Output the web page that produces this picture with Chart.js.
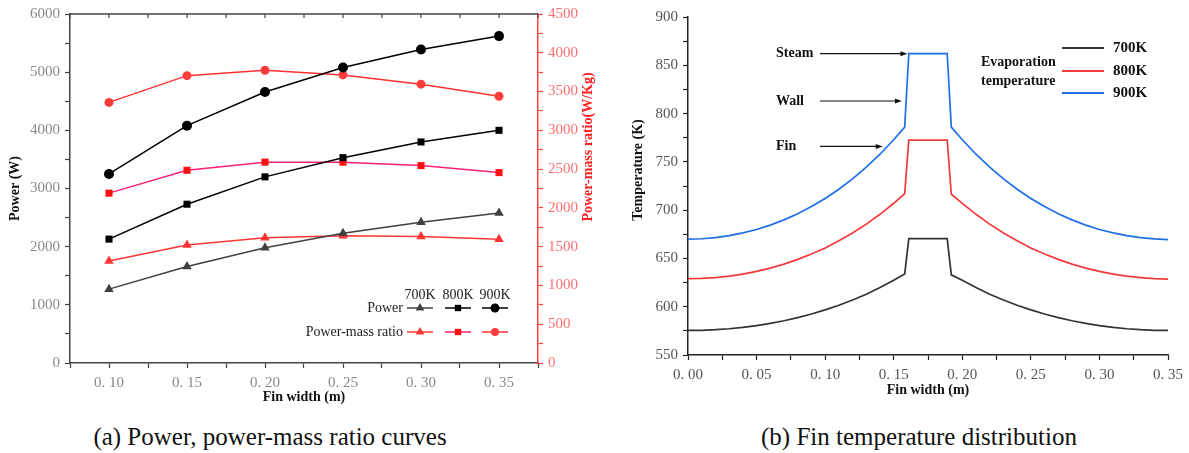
<!DOCTYPE html>
<html>
<head>
<meta charset="utf-8">
<script src="https://cdn.jsdelivr.net/npm/chart.js@4.4.1/dist/chart.umd.min.js"></script>
<style>
  body { margin: 0; background: #fff; width: 1189px; height: 453px; position: relative; overflow: hidden; font-family: "Liberation Serif", serif; }
  #chartA { position: absolute; left: 0; top: 0; }
  #chartB { position: absolute; left: 600px; top: 0; }
  .caption { position: absolute; top: 422px; line-height: 30px; font-size: 25px; color: #111; white-space: nowrap; transform: translateX(-50%); }
</style>
</head>
<body>
<canvas id="chartA" width="600" height="410"></canvas>
<canvas id="chartB" width="589" height="410"></canvas>
<div class="caption" style="left:270px">(a) Power, power-mass ratio curves</div>
<div class="caption" style="left:919px">(b) Fin temperature distribution</div>
<script>
// ---- (a) power / power-mass ratio ----
const finWidth = [0.10, 0.15, 0.20, 0.25, 0.30, 0.35]
const evapTemps = ["700K", "800K", "900K"]
const seriesNames = ["Power", "Power-mass ratio"]
const power700 = [1270, 1660, 1980, 2230, 2420, 2580]
const power800 = [2130, 2730, 3200, 3530, 3800, 4000]
const power900 = [3250, 4080, 4660, 5080, 5390, 5620]
const ratio700 = [1315, 1520, 1615, 1640, 1630, 1595]
const ratio800 = [2190, 2485, 2590, 2590, 2545, 2455]
const ratio900 = [3360, 3705, 3775, 3715, 3595, 3440]

// ---- (b) fin temperature distribution ----
const position = [
  0, 0.01, 0.02, 0.03, 0.04, 0.05, 0.06, 0.07, 0.08, 0.09, 0.10, 0.11, 0.12, 0.13, 0.14, 0.15,
  0.158, 0.161, 0.189, 0.192,
  0.20, 0.21, 0.22, 0.23, 0.24, 0.25, 0.26, 0.27, 0.28, 0.29, 0.30, 0.31, 0.32, 0.33, 0.34, 0.35,
]
const temp700 = [
  575.4, 575.6, 576.2, 577.2, 578.6, 580.5, 582.7, 585.5, 588.7, 592.4, 596.7, 601.5, 606.9, 613.0, 619.8, 627.4,
  634, 670.5, 670.5, 633,
  627.4, 619.8, 613.0, 606.9, 601.5, 596.7, 592.4, 588.7, 585.5, 582.7, 580.5, 578.6, 577.2, 576.2, 575.6, 575.4,
]
const temp800 = [
  629, 629.3, 630.2, 631.7, 633.8, 636.6, 640.0, 644.1, 649.0, 654.5, 660.9, 668.2, 676.4, 685.5, 695.7, 707.1,
  717, 772.5, 772.5, 716.5,
  707.1, 695.7, 685.5, 676.4, 668.2, 660.9, 654.5, 649.0, 644.1, 640.0, 636.6, 633.8, 631.7, 630.2, 629.0, 628.5,
]
const temp900 = [
  670, 670.4, 671.6, 673.6, 676.4, 680.0, 684.5, 689.9, 696.3, 703.7, 712.1, 721.7, 732.4, 744.5, 757.9, 772.9,
  786, 862, 862, 786,
  772.9, 757.9, 744.5, 732.4, 721.7, 712.1, 703.7, 696.3, 689.9, 684.5, 680.0, 676.4, 673.6, 671.6, 670.2, 669.5,
]
const noteLabels = ["Steam", "Wall", "Fin"]
const noteTemps = [862, 813, 766]
const noteTips = [0.160, 0.156, 0.142]

const serif = '"Liberation Serif", "Times New Roman", serif'
const fmtWidth = (v) => v.toFixed(2).replace(".", ". ")
const isMultiple = (v, step) => Math.abs(v / step - Math.round(v / step)) < 1e-6
const toPoints = (xs, ys) => xs.map((x, i) => ({ x: x, y: ys[i] }))

function drawMarker(ctx, style, x, y, r, color) {
  ctx.fillStyle = color
  ctx.beginPath()
  if (style === "circle") {
    ctx.arc(x, y, r, 0, Math.PI * 2)
  } else if (style === "rect") {
    const s = r * Math.SQRT1_2
    ctx.rect(x - s, y - s, 2 * s, 2 * s)
  } else {
    for (let k = 0; k < 3; k++) {
      const a = (k * 2 * Math.PI) / 3
      ctx.lineTo(x + Math.sin(a) * r, y - Math.cos(a) * r)
    }
    ctx.closePath()
  }
  ctx.fill()
}

function vText(ctx, text, x, y, color, font) {
  ctx.save()
  ctx.translate(x, y)
  ctx.rotate(-Math.PI / 2)
  ctx.font = font
  ctx.fillStyle = color
  ctx.textAlign = "center"
  ctx.textBaseline = "middle"
  ctx.fillText(text, 0, 0)
  ctx.restore()
}

function arrow(ctx, x0, x1, y) {
  ctx.beginPath()
  ctx.moveTo(x0, y)
  ctx.lineTo(x1 - 5, y)
  ctx.stroke()
  ctx.beginPath()
  ctx.moveTo(x1, y)
  ctx.lineTo(x1 - 7, y - 2.5)
  ctx.lineTo(x1 - 7, y + 2.5)
  ctx.closePath()
  ctx.fill()
}

const styleA = [
  { color: "#404040", point: "#404040", style: "triangle", r: 5.5 },
  { color: "#000000", point: "#000000", style: "rect", r: 5 },
  { color: "#000000", point: "#000000", style: "circle", r: 5 },
  { color: "#ff3535", point: "#ff3535", style: "triangle", r: 5.5 },
  { color: "#ff1f78", point: "#ff1010", style: "rect", r: 5 },
  { color: "#ff3030", point: "#ff3c3c", style: "circle", r: 4.5 },
]
const seriesA = [power700, power800, power900, ratio700, ratio800, ratio900]

/* légende et cadre du graphique (a) */
const extrasA = {
  id: "extrasA",
  afterDraw(chart) {
    const { ctx, chartArea: a, scales } = chart
    ctx.save()
    // bord supérieur avec graduations vers l'intérieur
    ctx.strokeStyle = "#444"
    ctx.lineWidth = 1.5
    ctx.beginPath()
    ctx.moveTo(a.left, a.top)
    ctx.lineTo(a.right, a.top)
    ctx.stroke()
    ctx.lineWidth = 1.2
    scales.x.ticks.forEach((t) => {
      const px = scales.x.getPixelForValue(t.value)
      ctx.beginPath()
      ctx.moveTo(px, a.top)
      ctx.lineTo(px, a.top + 4)
      ctx.stroke()
    })

    // légende
    const cols = [420, 458, 495]
    const rows = [308, 332]
    ctx.font = "14px " + serif
    ctx.fillStyle = "#222"
    ctx.textBaseline = "middle"
    ctx.textAlign = "center"
    evapTemps.forEach((t, i) => ctx.fillText(t, cols[i], 295))
    ctx.textAlign = "right"
    seriesNames.forEach((t, r) => ctx.fillText(t, 403, rows[r]))
    chart.data.datasets.forEach((ds, i) => {
      const cx = cols[i % 3]
      const cy = rows[Math.floor(i / 3)]
      ctx.strokeStyle = ds.borderColor
      ctx.lineWidth = 1.5
      ctx.beginPath()
      ctx.moveTo(cx - 13, cy)
      ctx.lineTo(cx + 13, cy)
      ctx.stroke()
      drawMarker(ctx, ds.pointStyle, cx, cy, ds.pointRadius - 0.5, ds.pointBackgroundColor)
    })
    ctx.restore()

    vText(ctx, "Power-mass ratio(W/Kg)", 588, 147, "#ff2020", "bold 14px " + serif)
  },
}

new Chart(document.getElementById("chartA"), {
  type: "line",
  data: {
    datasets: seriesA.map((values, i) => ({
      label: seriesNames[Math.floor(i / 3)] + " " + evapTemps[i % 3],
      data: toPoints(finWidth, values),
      yAxisID: i < 3 ? "y" : "y1",
      borderColor: styleA[i].color,
      borderWidth: 1.5,
      pointStyle: styleA[i].style,
      pointRadius: styleA[i].r,
      pointBackgroundColor: styleA[i].point,
      pointBorderColor: styleA[i].point,
      pointBorderWidth: 0,
      tension: 0,
    })),
  },
  options: {
    responsive: false,
    animation: false,
    layout: { padding: { top: 14, left: 0, right: 0, bottom: 0 } },
    plugins: { legend: { display: false }, tooltip: { enabled: false } },
    scales: {
      x: {
        type: "linear",
        min: 0.075,
        max: 0.375,
        border: { color: "#444", width: 1.5 },
        grid: { drawOnChartArea: false, tickLength: 5, tickColor: "#444", tickWidth: 1.2 },
        ticks: {
          stepSize: 0.025,
          autoSkip: false,
          maxRotation: 0,
          padding: 6,
          color: "#888",
          font: { family: serif, size: 15 },
          callback: (v) => (isMultiple(v, 0.05) ? fmtWidth(v) : ""),
        },
        title: { display: true, text: "Fin width (m)", color: "#111", font: { family: serif, size: 14, weight: "bold" }, padding: { top: 0, bottom: 4 } },
        afterFit: (s) => { s.height = 47 },
      },
      y: {
        position: "left",
        min: 0,
        max: 6000,
        border: { color: "#444", width: 1.5 },
        grid: { drawOnChartArea: false, tickLength: 5, tickColor: "#444", tickWidth: 1.2 },
        ticks: {
          stepSize: 500,
          autoSkip: false,
          padding: 5,
          color: "#8a8a8a",
          font: { family: serif, size: 15 },
          callback: (v) => (isMultiple(v, 1000) ? String(v) : ""),
        },
        title: { display: true, text: "Power (W)", color: "#111", font: { family: serif, size: 14, weight: "bold" }, padding: { top: 7, bottom: 0 } },
        afterFit: (s) => { s.width = 70 },
      },
      y1: {
        position: "right",
        min: 0,
        max: 4500,
        border: { color: "#ff4040", width: 1.5 },
        grid: { drawOnChartArea: false, tickLength: 5, tickColor: "#ff4040", tickWidth: 1.2 },
        ticks: {
          stepSize: 250,
          autoSkip: false,
          padding: 5,
          color: "#ff7070",
          font: { family: serif, size: 15 },
          callback: (v) => (isMultiple(v, 500) ? String(v) : ""),
        },
        afterFit: (s) => { s.width = 62 },
      },
    },
  },
  plugins: [extrasA],
})

/* annotations et légende du graphique (b) */
const colorsB = ["#333333", "#f23a3a", "#1f6fe5"]
const extrasB = {
  id: "extrasB",
  afterDraw(chart) {
    const { ctx, scales: { x, y } } = chart
    ctx.save()
    ctx.font = "bold 14px " + serif
    ctx.fillStyle = "#111"
    ctx.strokeStyle = "#111"
    ctx.lineWidth = 1.2
    ctx.textBaseline = "middle"
    ctx.textAlign = "left"
    noteLabels.forEach((t, i) => {
      const py = y.getPixelForValue(noteTemps[i])
      ctx.fillText(t, 176, py)
      arrow(ctx, 220, x.getPixelForValue(noteTips[i]), py)
    })

    ctx.fillText("Evaporation", 381, 62)
    ctx.fillText("temperature", 381, 81)
    const rowsY = [48, 71, 93]
    ctx.font = "bold 15px " + serif
    chart.data.datasets.forEach((ds, i) => {
      ctx.strokeStyle = ds.borderColor
      ctx.lineWidth = 1.8
      ctx.beginPath()
      ctx.moveTo(462, rowsY[i])
      ctx.lineTo(504, rowsY[i])
      ctx.stroke()
      ctx.fillStyle = "#111"
      ctx.fillText(ds.label, 513, rowsY[i])
    })
    ctx.restore()

    vText(ctx, "Temperature (K)", 38, 170, "#111", "bold 14px " + serif)
  },
}

new Chart(document.getElementById("chartB"), {
  type: "line",
  data: {
    datasets: [temp700, temp800, temp900].map((values, i) => ({
      label: evapTemps[i],
      data: toPoints(position, values),
      borderColor: colorsB[i],
      borderWidth: 1.7,
      pointRadius: 0,
      tension: 0,
    })),
  },
  options: {
    responsive: false,
    animation: false,
    layout: { padding: { top: 17, left: 0, right: 20, bottom: 0 } },
    plugins: { legend: { display: false }, tooltip: { enabled: false } },
    scales: {
      x: {
        type: "linear",
        min: 0,
        max: 0.35,
        border: { color: "#222", width: 1.5 },
        grid: { drawOnChartArea: false, tickLength: 5, tickColor: "#222", tickWidth: 1.2 },
        ticks: {
          stepSize: 0.025,
          autoSkip: false,
          maxRotation: 0,
          padding: 6,
          color: "#555",
          font: { family: serif, size: 15 },
          callback: (v) => (isMultiple(v, 0.05) ? fmtWidth(v) : ""),
        },
        title: { display: true, text: "Fin width (m)", color: "#111", font: { family: serif, size: 14, weight: "bold" }, padding: { top: 0, bottom: 11 } },
        afterFit: (s) => { s.height = 55 },
      },
      y: {
        min: 550,
        max: 900,
        border: { color: "#222", width: 1.5 },
        grid: { drawOnChartArea: false, tickLength: 5, tickColor: "#222", tickWidth: 1.2 },
        ticks: {
          stepSize: 25,
          autoSkip: false,
          padding: 5,
          color: "#555",
          font: { family: serif, size: 15 },
          callback: (v) => (isMultiple(v, 50) ? String(v) : ""),
        },
        afterFit: (s) => { s.width = 88 },
      },
    },
  },
  plugins: [extrasB],
})
</script>
</body>
</html>
